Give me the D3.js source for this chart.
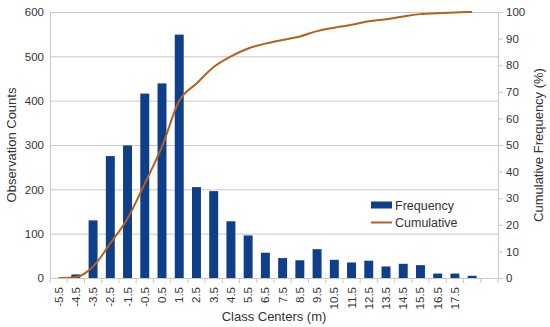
<!DOCTYPE html>
<html>
<head>
<meta charset="utf-8">
<script src="https://cdn.jsdelivr.net/npm/d3@7"></script>
<style>
  body { margin: 0; background: #fff; }
  text { font-family: "Liberation Sans", Arial, sans-serif; fill: #333; }
</style>
</head>
<body>
<svg id="chart" width="550" height="327"></svg>
<script>
// class centers (m), the last two slots have no label in the original
var categories = ["-5.5", "-4.5", "-3.5", "-2.5", "-1.5", "-0.5", "0.5", "1.5", "2.5", "3.5",
  "4.5", "5.5", "6.5", "7.5", "8.5", "9.5", "10.5", "11.5", "12.5", "13.5",
  "14.5", "15.5", "16.5", "17.5", "18.5", "19.5"];
var tickLabels = categories.slice(0, 24);

var frequency = [0, 8, 130, 275, 299, 416, 439, 549, 205, 196,
  128, 96, 57, 45, 40, 65, 41, 35, 39, 26,
  32, 29, 10, 10, 5];

var cumulative = [0, 0.3, 4.3, 13, 22.4, 35.5, 49.4, 66.6, 73.1, 79.3,
  83.3, 86.3, 88.1, 89.5, 90.8, 92.8, 94.1, 95.2, 96.5, 97.3,
  98.3, 99.2, 99.5, 99.8, 100];

var countTicks = [0, 100, 200, 300, 400, 500, 600];
var pctTicks = [0, 10, 20, 30, 40, 50, 60, 70, 80, 90, 100];

// plot box (window.top is reserved, so no plain "top")
var plotL = 50, plotR = 498, plotT = 12, plotB = 278;
var barColor = "#0f3e8a", lineColor = "#b3621c", gridColor = "#c8c8c8";

var svg = d3.select("#chart");

var x = d3.scaleBand().domain(categories).range([plotL, plotR]).padding(0);
var step = x.step();
var yL = d3.scaleLinear().domain([0, 600]).range([plotB, plotT]);
var yR = d3.scaleLinear().domain([0, 100]).range([plotB, plotT]);

// horizontal grid
svg.append("g").selectAll("line").data(countTicks.slice(1)).enter().append("line")
  .attr("x1", plotL).attr("x2", plotR)
  .attr("y1", d => yL(d) + 0.5).attr("y2", d => yL(d) + 0.5)
  .attr("stroke", gridColor).attr("stroke-width", 1);

// bars
svg.append("g").selectAll("rect").data(frequency).enter().append("rect")
  .attr("x", (d, i) => x(categories[i]) + step * 0.24)
  .attr("width", step * 0.52)
  .attr("y", d => yL(d))
  .attr("height", d => plotB - yL(d))
  .attr("fill", barColor);

// cumulative line
var line = d3.line()
  .x((d, i) => x(categories[i]) + step / 2)
  .y(d => yR(d))
  .curve(d3.curveMonotoneX);
svg.append("path").datum(cumulative)
  .attr("d", line)
  .attr("fill", "none")
  .attr("stroke", lineColor)
  .attr("stroke-width", 2);

// left axis
var gL = svg.append("g").attr("transform", "translate(" + plotL + ",0)")
  .call(d3.axisLeft(yL).tickValues(countTicks).tickSize(0).tickPadding(6));
gL.select(".domain").attr("stroke", gridColor);
gL.selectAll("text").style("font-size", "11.5px").attr("fill", "#333");

// right axis
var gR = svg.append("g").attr("transform", "translate(" + plotR + ",0)")
  .call(d3.axisRight(yR).tickValues(pctTicks).tickSize(5).tickPadding(3));
gR.select(".domain").attr("stroke", gridColor);
gR.selectAll("line").attr("stroke", gridColor);
gR.selectAll("text").style("font-size", "11.5px").attr("fill", "#333");

// bottom axis: ticks at class boundaries
var gB = svg.append("g");
gB.append("line").attr("x1", plotL).attr("x2", plotR)
  .attr("y1", plotB + 0.5).attr("y2", plotB + 0.5).attr("stroke", gridColor);
gB.selectAll(".tk").data(categories.concat([""])).enter().append("line")
  .attr("x1", (d, i) => plotL + i * step).attr("x2", (d, i) => plotL + i * step)
  .attr("y1", plotB).attr("y2", plotB + 5).attr("stroke", gridColor);
gB.selectAll(".lbl").data(tickLabels).enter().append("text")
  .attr("transform", d => "translate(" + (x(d) + step / 2 + 4) + "," + (plotB + 9) + ") rotate(-90)")
  .attr("text-anchor", "end")
  .style("font-size", "11.5px")
  .text(d => d);

// axis titles
svg.append("text").attr("transform", "translate(16,145) rotate(-90)")
  .attr("text-anchor", "middle").style("font-size", "13px").text("Observation Counts");
svg.append("text").attr("transform", "translate(543,145) rotate(-90)")
  .attr("text-anchor", "middle").style("font-size", "13px").text("Cumulative Frequency (%)");
svg.append("text").attr("x", 274).attr("y", 321)
  .attr("text-anchor", "middle").style("font-size", "13px").text("Class Centers (m)");

// legend
var leg = svg.append("g").attr("transform", "translate(371,205)");
leg.append("rect").attr("x", 0).attr("y", -3.5).attr("width", 21).attr("height", 7).attr("fill", barColor);
leg.append("text").attr("x", 24).attr("y", 4.5).style("font-size", "12.5px").text("Frequency");
leg.append("line").attr("x1", 0).attr("x2", 21).attr("y1", 17.5).attr("y2", 17.5)
  .attr("stroke", lineColor).attr("stroke-width", 2);
leg.append("text").attr("x", 24).attr("y", 22).style("font-size", "12.5px").text("Cumulative");
</script>
</body>
</html>
